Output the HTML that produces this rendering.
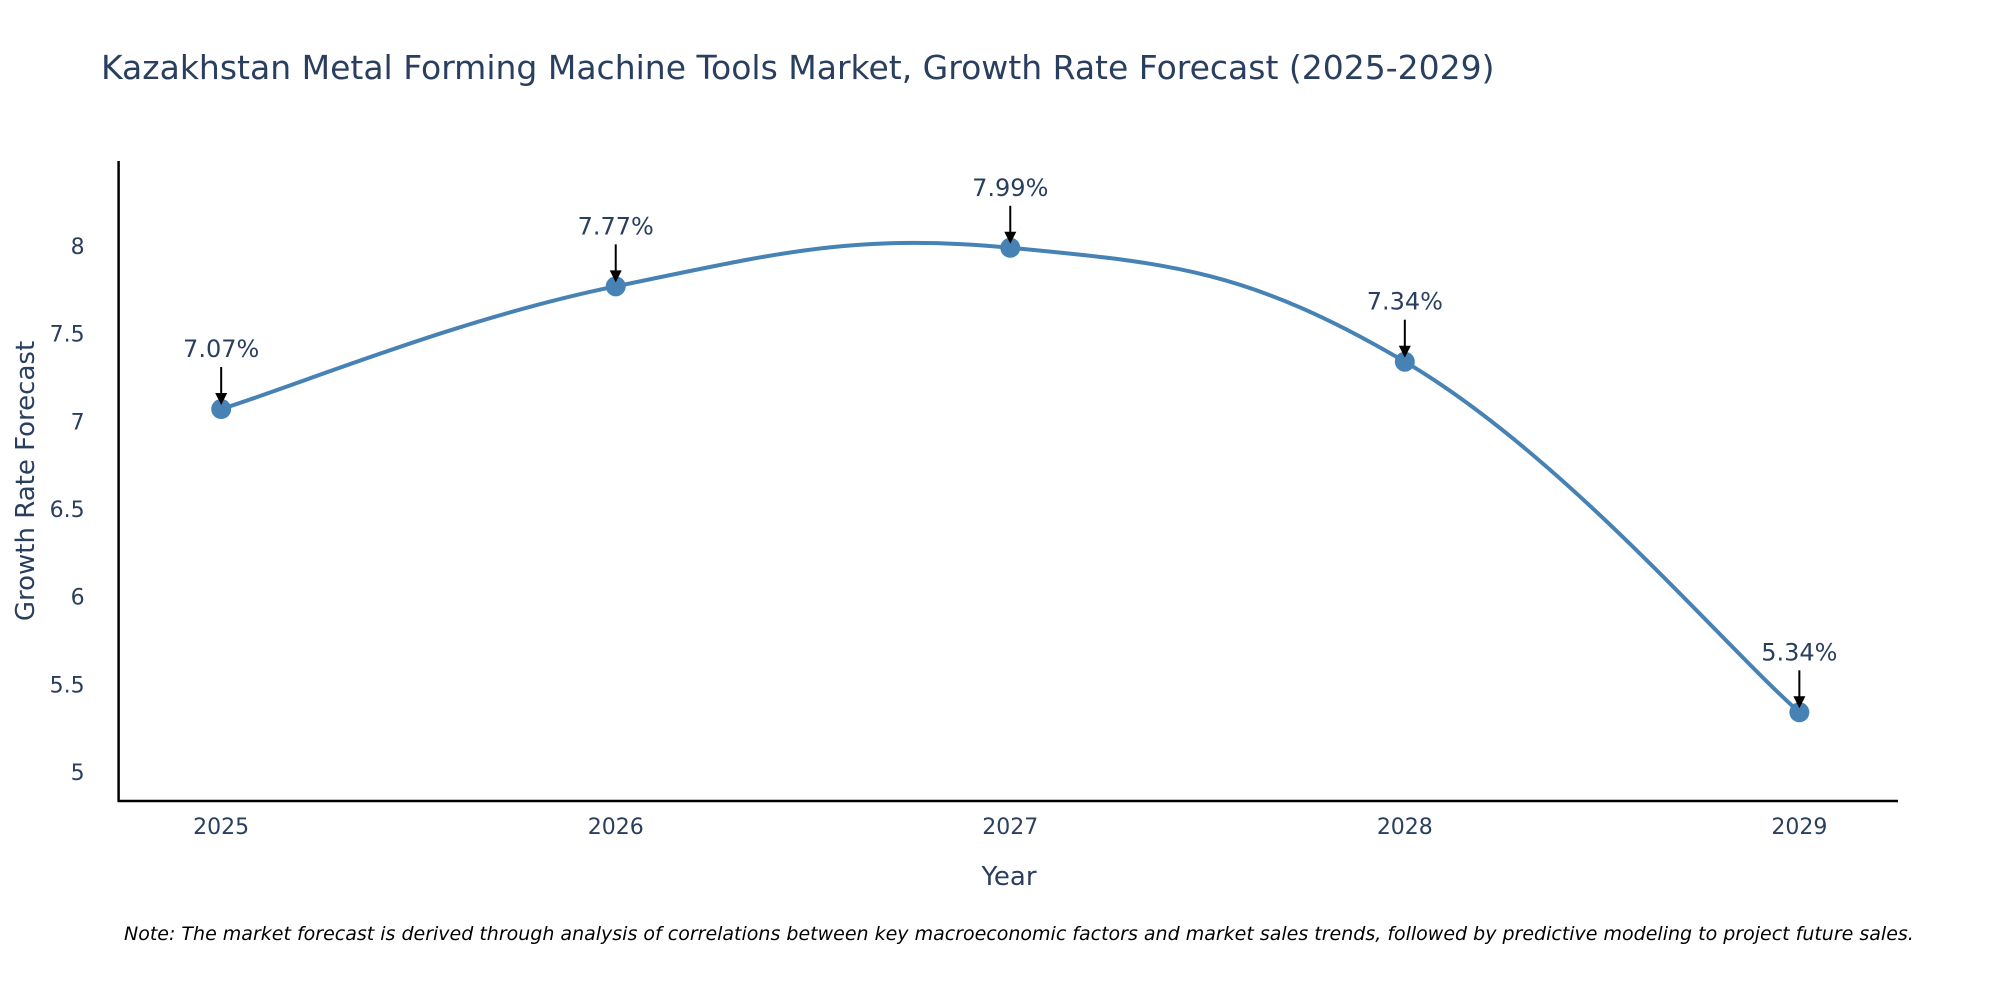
<!DOCTYPE html>
<html><head><meta charset="utf-8">
<style>
html,body{margin:0;padding:0;background:#fff;}
svg{display:block;font-family:"DejaVu Sans","Liberation Sans",sans-serif;}
</style></head>
<body>
<svg id="chart" width="2000" height="1000" viewBox="0 0 2000 1000">
<text x="101" y="79" font-size="33" fill="#2a3f5f">Kazakhstan Metal Forming Machine Tools Market, Growth Rate Forecast (2025-2029)</text>
<g id="yticks"></g>
<g id="xticks"></g>
<path id="line" fill="none" stroke="#4682b4" stroke-width="4"/>
<g id="points"></g>
<g id="annots"></g>
<line x1="118.6" y1="161" x2="118.6" y2="801" stroke="#000" stroke-width="2.5"/>
<line x1="117.5" y1="801" x2="1898" y2="801" stroke="#000" stroke-width="2.5"/>
<text x="1009" y="885" font-size="26" fill="#2a3f5f" text-anchor="middle">Year</text>
<text transform="translate(34,481) rotate(-90)" font-size="26" fill="#2a3f5f" text-anchor="middle">Growth Rate Forecast</text>
<text x="124" y="940" font-size="19" font-style="italic" fill="#000">Note: The market forecast is derived through analysis of correlations between key macroeconomic factors and market sales trends, followed by predictive modeling to project future sales.</text>
</svg>
<script>
const years = [2025, 2026, 2027, 2028, 2029];
const rates = [7.07, 7.77, 7.99, 7.34, 5.34];
const labels = ["7.07%", "7.77%", "7.99%", "7.34%", "5.34%"];
const yTicks = [5, 5.5, 6, 6.5, 7, 7.5, 8];
const yTickLabels = ["5", "5.5", "6", "6.5", "7", "7.5", "8"];

const X0=118.6, X1=1898, Y0=801, Y1=161;
const xMin=2024.74, xMax=2029.25, yMin=4.834, yMax=8.485;
const sx=v=>X0+(v-xMin)/(xMax-xMin)*(X1-X0);
const sy=v=>Y0-(v-yMin)/(yMax-yMin)*(Y0-Y1);
const NS="http://www.w3.org/2000/svg";
function mk(tag,attrs,parent){const e=document.createElementNS(NS,tag);for(const k in attrs)e.setAttribute(k,attrs[k]);parent.appendChild(e);return e;}

const yg=document.getElementById('yticks');
yTicks.forEach((t,i)=>{
  const e=mk('text',{x:X0-34,y:sy(t)+8,'font-size':22,fill:'#2a3f5f','text-anchor':'end'},yg);
  e.textContent=yTickLabels[i];
  
  
});
const xg=document.getElementById('xticks');
years.forEach(y=>{
  const e=mk('text',{x:sx(y),y:834,'font-size':22,fill:'#2a3f5f','text-anchor':'middle'},xg);
  e.textContent=String(y);
  
  
});

const P=years.map((y,i)=>[sx(y),sy(rates[i])]);
let d=`M${P[0][0]},${P[0][1]}`;
const t=0.6;
for(let i=0;i<P.length-1;i++){
  const p0=P[i-1]||P[i], p1=P[i], p2=P[i+1], p3=P[i+2]||P[i+1];
  const c1=[p1[0]+(p2[0]-p0[0])*t/3, p1[1]+(p2[1]-p0[1])*t/3];
  const c2=[p2[0]-(p3[0]-p1[0])*t/3, p2[1]-(p3[1]-p1[1])*t/3];
  d+=` C${c1[0]},${c1[1]} ${c2[0]},${c2[1]} ${p2[0]},${p2[1]}`;
}
document.getElementById('line').setAttribute('d',d);

const pg=document.getElementById('points'), ag=document.getElementById('annots');
P.forEach((p,i)=>{
  const c=mk('circle',{cx:p[0],cy:p[1],r:10,fill:'#4682b4'},pg);
  
  
  const l=mk('line',{x1:p[0],y1:p[1]-42,x2:p[0],y2:p[1]-13,stroke:'#000','stroke-width':2},ag);
  
  
  const h=mk('polygon',{points:`${p[0]-6},${p[1]-16} ${p[0]+6},${p[1]-16} ${p[0]},${p[1]-4}`,fill:'#000'},ag);
  
  
  const tx=mk('text',{x:p[0],y:p[1]-52,'font-size':24,fill:'#2a3f5f','text-anchor':'middle'},ag);
  tx.textContent=labels[i];
  
  
});
</script>
</body></html>
